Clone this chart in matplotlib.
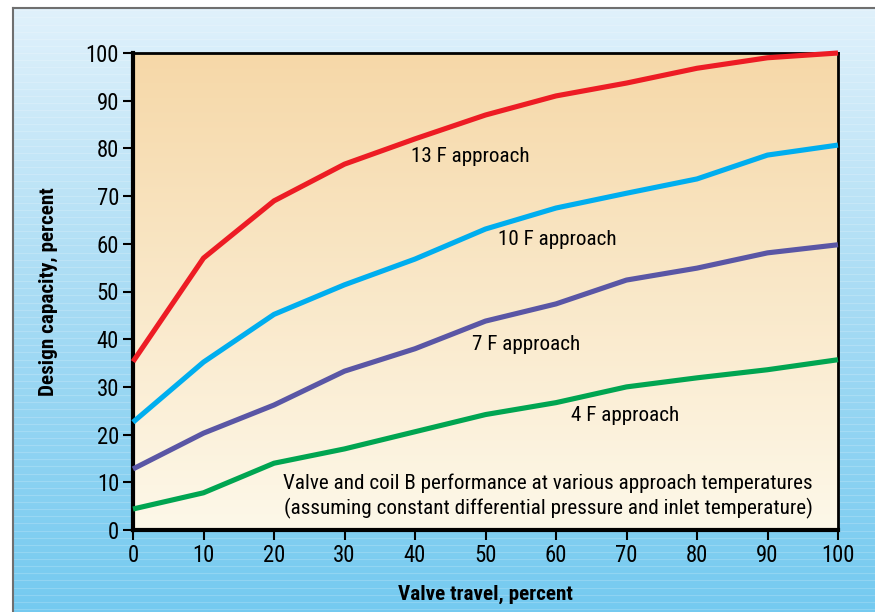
import numpy as np
import matplotlib
matplotlib.use("Agg")
import matplotlib.pyplot as plt
from matplotlib import font_manager
from matplotlib.colors import LinearSegmentedColormap

# ---- data ----
valve_travel = [0, 10, 20, 30, 40, 50, 60, 70, 80, 90, 100]
approach_13F = [35.3, 57.0, 69.0, 76.7, 82.0, 87.0, 91.0, 93.7, 96.8, 99.0, 100.0]
approach_10F = [22.6, 35.2, 45.2, 51.4, 56.8, 63.1, 67.5, 70.6, 73.6, 78.6, 80.7]
approach_7F = [12.8, 20.3, 26.2, 33.3, 38.0, 43.8, 47.4, 52.4, 54.9, 58.1, 59.8]
approach_4F = [4.4, 7.8, 14.0, 17.0, 20.6, 24.2, 26.7, 30.0, 31.9, 33.6, 35.7]
series_labels = ["13 F approach", "10 F approach", "7 F approach", "4 F approach"]
x_ticks = [0, 10, 20, 30, 40, 50, 60, 70, 80, 90, 100]
y_ticks = [0, 10, 20, 30, 40, 50, 60, 70, 80, 90, 100]
caption = ("Valve and coil B performance at various approach temperatures\n"
           "(assuming constant differential pressure and inlet temperature)")

# pick a condensed family if one exists, else Roboto
names = sorted({f.name for f in font_manager.fontManager.ttflist})
fam = None
for cand in ["Liberation Sans Narrow", "Roboto Condensed", "Open Sans Condensed",
             "DejaVu Sans Condensed", "Noto Sans Condensed"]:
    if cand in names:
        fam = cand
        break
if fam is None:
    for n in names:
        if "Condensed" in n or "Narrow" in n:
            fam = n
            break
condensed = fam is not None
if fam is None:
    fam = "Roboto" if "Roboto" in names else "Liberation Sans"
plt.rcParams["font.family"] = [fam, "DejaVu Sans"]
fs = 15.2 if condensed else 12.5

W, H = 875, 612
fig = plt.figure(figsize=(W / 100, H / 100), dpi=100)
fig.patch.set_facecolor("white")

# blue background panel
bg = fig.add_axes([13 / W, 0, 1 - 13 / W, 1 - 8 / H], zorder=0)
blue = LinearSegmentedColormap.from_list("b", [(0, "#74caf0"), (0.5, "#a6dbf4"), (1, "#e0f1fb")])
grad = np.linspace(0, 1, 256).reshape(-1, 1)
bg.imshow(grad, cmap=blue, aspect="auto", origin="lower", extent=[0, 1, 0, 1])
for yy in np.arange(0.005, 1, 0.0118):
    bg.axhline(yy, color="white", alpha=0.18, lw=0.8)
bg.set_xlim(0, 1); bg.set_ylim(0, 1)
bg.set_xticks([]); bg.set_yticks([])
for s in bg.spines.values():
    s.set_visible(False)
for s in ["left", "top"]:
    bg.spines[s].set_visible(True)
    bg.spines[s].set_color("#6f6f6f")
    bg.spines[s].set_linewidth(1.5)

# main axes
ax = fig.add_axes([133 / W, (H - 530) / H, (838 - 133) / W, (530 - 53) / H], zorder=1)
tan = LinearSegmentedColormap.from_list("t", [(0, "#fdf8e9"), (1, "#f6d8a8")])
ax.imshow(grad, cmap=tan, aspect="auto", origin="lower", extent=[0, 100, 0, 100], zorder=0)

colors = ["#ed1c24", "#00aeef", "#5a56a5", "#00a551"]
for ys, c in zip([approach_13F, approach_10F, approach_7F, approach_4F], colors):
    ax.plot(valve_travel, ys, color=c, lw=3.7, solid_capstyle="butt", zorder=3, clip_on=False)

ax.set_xlim(0, 100)
ax.set_ylim(0, 100)
ax.set_xticks(x_ticks)
ax.set_yticks(y_ticks)
ax.tick_params(direction="out", length=7, width=1.5, labelsize=fs + 1.2, colors="black", pad=3)
for side in ["left", "bottom"]:
    ax.spines[side].set_linewidth(3)
for side in ["top", "right"]:
    ax.spines[side].set_linewidth(2)

ax.set_xlabel("Valve travel, percent", fontsize=fs, fontweight="bold", labelpad=13)
ax.set_ylabel("Design capacity, percent", fontsize=fs, fontweight="bold", labelpad=20)

label_pos = [(47.9, 78.3), (60.2, 60.8), (55.7, 38.9), (69.8, 24.1)]
for (lx, ly), txt in zip(label_pos, series_labels):
    ax.text(lx, ly, txt, fontsize=fs, ha="center", va="center", zorder=4)

ax.text(58.9, 7.0, caption, fontsize=fs, ha="center", va="center", linespacing=1.3, zorder=4)

fig.savefig("out.png", dpi=100)
